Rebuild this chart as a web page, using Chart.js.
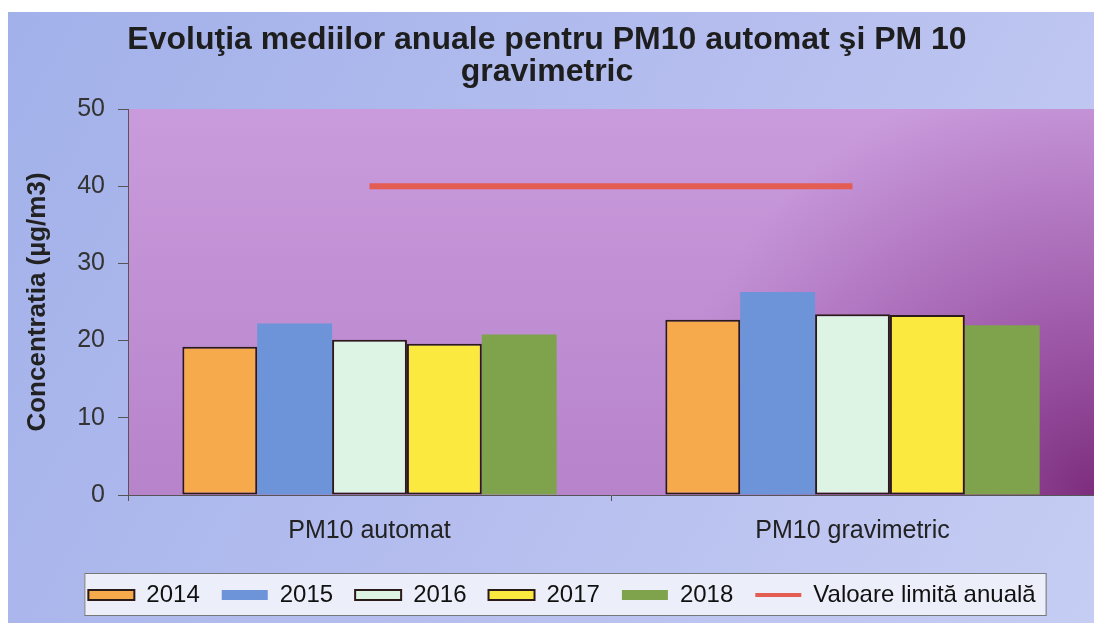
<!DOCTYPE html>
<html>
<head>
<meta charset="utf-8">
<script src="https://cdn.jsdelivr.net/npm/chart.js@4"></script>
<style>
  html, body { margin: 0; padding: 0; background: #fff; }
  #wrap { width: 1094px; height: 623px; }
</style>
</head>
<body>
<div id="wrap"><canvas id="chart" width="1094" height="623"></canvas></div>
<script>
// categories and series
const categories = ["PM10 automat", "PM10 gravimetric"];
const years = ["2014", "2015", "2016", "2017", "2018"];
const v2014 = [19.2, 22.7];
const v2015 = [22.2, 26.3];
const v2016 = [20.1, 23.4];
const v2017 = [19.6, 23.3];
const v2018 = [20.8, 22.0];
const limit = [40, 40];
const yTicks = [0, 10, 20, 30, 40, 50];

const fillColors = ["#f6aa4c", "#6d93d8", "#ddf3e4", "#fbe93f", "#7fa34c"];
const bordered = [true, false, true, true, false];
const series = [v2014, v2015, v2016, v2017, v2018];

const FONT = "'Liberation Sans', Arial, sans-serif";

// backgrounds and the legend frame
const backdrop = {
    id: "backdrop",
    afterLayout(chart) {
        // title is centred on the whole canvas, not on the padded area
        if (chart.titleBlock) chart.titleBlock.left = 0;
    },
    beforeDraw(chart) {
        const ctx = chart.ctx;
        const a = chart.chartArea;
        ctx.save();
        ctx.fillStyle = "#fff";
        ctx.fillRect(0, 0, chart.width, chart.height);

        let g = ctx.createLinearGradient(8, 12, chart.width, chart.height);
        g.addColorStop(0, "#a2b1ea");
        g.addColorStop(0.5, "#b4bdee");
        g.addColorStop(1, "#c6cdf3");
        ctx.fillStyle = g;
        ctx.fillRect(8, 12, chart.width - 8, chart.height - 12);

        const w = a.right - a.left, h = a.bottom - a.top;
        g = ctx.createLinearGradient(0, a.top, 0, a.bottom);
        g.addColorStop(0, "#c99bdc");
        g.addColorStop(1, "#b783cb");
        ctx.fillStyle = g;
        ctx.fillRect(a.left, a.top, w, h);

        g = ctx.createRadialGradient(a.right, a.bottom, 0, a.right, a.bottom, 430);
        g.addColorStop(0, "rgba(125,45,125,1)");
        g.addColorStop(0.5, "rgba(140,60,145,0.5)");
        g.addColorStop(1, "rgba(150,70,160,0)");
        ctx.fillStyle = g;
        ctx.fillRect(a.left, a.top, w, h);

        const boxes = chart.legend.legendHitBoxes;
        if (boxes && boxes.length) {
            const l = Math.min(...boxes.map(b => b.left)) - 4;
            const r = Math.max(...boxes.map(b => b.left + b.width)) + 10;
            const t = Math.min(...boxes.map(b => b.top)) - 10;
            const btm = Math.max(...boxes.map(b => b.top + b.height)) + 8;
            ctx.fillStyle = "#eceef9";
            ctx.fillRect(l, t, r - l, btm - t);
            ctx.strokeStyle = "#777";
            ctx.lineWidth = 1;
            ctx.strokeRect(l + 0.5, t + 0.5, r - l, btm - t);
        }
        ctx.restore();
    }
};

const datasets = years.map((y, i) => ({
    type: "bar",
    label: y,
    data: series[i],
    backgroundColor: fillColors[i],
    borderColor: bordered[i] ? "#2a1a1a" : fillColors[i],
    borderWidth: bordered[i] ? 2 : 0,
    borderSkipped: false,
    categoryPercentage: 0.775,
    barPercentage: 1.0,
    order: 2
}));

datasets.push({
    type: "line",
    label: "Valoare limită anuală",
    data: limit,
    borderColor: "#e35d52",
    borderWidth: 6,
    pointRadius: 0,
    fill: false,
    order: 1
});

new Chart(document.getElementById("chart"), {
    data: { labels: categories, datasets: datasets },
    plugins: [backdrop],
    options: {
        responsive: false,
        animation: false,
        layout: { padding: { left: 30, right: 0, top: 0, bottom: 6 } },
        plugins: {
            title: {
                display: true,
                text: ["Evoluţia mediilor anuale pentru PM10 automat şi PM 10", "gravimetric"],
                color: "#1e1e1e",
                font: { family: FONT, size: 32, weight: "bold", lineHeight: 1.0 },
                padding: { top: 24, bottom: 21 }
            },
            legend: {
                position: "bottom",
                labels: {
                    usePointStyle: true,
                    pointStyleWidth: 46,
                    boxHeight: 10,
                    padding: 22,
                    color: "#111",
                    font: { family: FONT, size: 24 },
                    generateLabels(chart) {
                        return chart.data.datasets.map((ds, i) => {
                            const isLine = ds.type === "line";
                            return {
                                text: ds.label,
                                fillStyle: isLine ? ds.borderColor : ds.backgroundColor,
                                strokeStyle: isLine ? ds.borderColor : "#2a1a1a",
                                lineWidth: isLine ? 4 : ds.borderWidth,
                                pointStyle: isLine ? "line" : "rect",
                                fontColor: "#111",
                                hidden: false,
                                datasetIndex: i
                            };
                        });
                    }
                }
            },
            tooltip: { enabled: false }
        },
        scales: {
            x: {
                grid: { display: true, drawOnChartArea: false, color: "#555", tickLength: 6 },
                border: { color: "#555", width: 1 },
                ticks: { color: "#222", padding: 15, font: { family: FONT, size: 25 } },
                afterFit(scale) { scale.height = 66; }
            },
            y: {
                min: 0,
                max: 50,
                afterBuildTicks(scale) { scale.ticks = yTicks.map(v => ({ value: v })); },
                grid: { display: true, drawOnChartArea: false, color: "#555", tickLength: 10 },
                border: { color: "#555", width: 1 },
                ticks: { color: "#333", padding: 13, font: { family: FONT, size: 25 } },
                title: {
                    display: true,
                    text: "Concentratia (µg/m3)",
                    color: "#222",
                    font: { family: FONT, size: 26, weight: "bold", lineHeight: 1.2 },
                    padding: { top: -7.6, bottom: 0 }
                },
                afterFit(scale) { scale.width = 98; }
            }
        }
    }
});
</script>
</body>
</html>
